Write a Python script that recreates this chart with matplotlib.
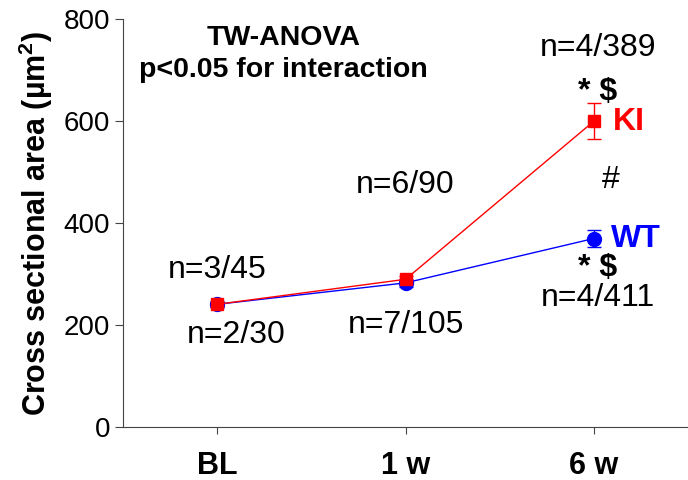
import matplotlib
matplotlib.use("Agg")
import matplotlib.pyplot as plt

plt.rcParams['font.family'] = ['Liberation Sans', 'DejaVu Sans']

# data
timepoints = ['BL', '1 w', '6 w']
wt_mean = [241, 283, 370]
wt_err = [5, 8, 16]
ki_mean = [241, 290, 600]
ki_err = [5, 6, 35]
x = [0, 1, 2]

fig = plt.figure(figsize=(6.88, 4.8), dpi=100)
ax = fig.add_axes([0.179, 0.110, 0.821, 0.850])

ax.errorbar(x, wt_mean, yerr=wt_err, color='blue', marker='o', ms=10,
            lw=1, capsize=5, elinewidth=1)
ax.errorbar(x, ki_mean, yerr=ki_err, color='red', marker='s', ms=9,
            lw=1, capsize=5, elinewidth=1)

ax.set_xlim(-0.5, 2.5)
ax.set_ylim(0, 800)
ax.set_yticks([0, 200, 400, 600, 800])
ax.set_xticks(x)
ax.set_xticklabels(timepoints, fontsize=22, fontweight='bold')
ax.tick_params(axis='y', labelsize=20, direction='out', length=6, color='#444444')
ax.tick_params(axis='x', direction='out', length=5, color='#444444', pad=12)
for s in ['top', 'right']:
    ax.spines[s].set_visible(False)
for s in ['left', 'bottom']:
    ax.spines[s].set_color('#444444')
ax.set_ylabel('Cross sectional area (\u00b5m$^\\mathregular{2}$)', fontsize=22, fontweight='bold', labelpad=6)

# annotations
fs = 23
ax.text(0, 308, 'n=3/45', fontsize=fs, ha='center', va='center')
ax.text(0.1, 180, 'n=2/30', fontsize=fs, ha='center', va='center')
ax.text(1, 474, 'n=6/90', fontsize=fs, ha='center', va='center')
ax.text(1, 200, 'n=7/105', fontsize=fs, ha='center', va='center')
ax.text(2.02, 743, 'n=4/389', fontsize=fs, ha='center', va='center')
ax.text(2.02, 657, '* $', fontsize=fs, ha='center', va='center', fontweight='bold')
ax.text(2.1, 598, 'KI', fontsize=fs, ha='left', va='center', fontweight='bold', color='red')
ax.text(2.09, 484, '#', fontsize=fs, ha='center', va='center')
ax.text(2.09, 370, 'WT', fontsize=fs, ha='left', va='center', fontweight='bold', color='blue')
ax.text(2.02, 312, '* $', fontsize=fs, ha='center', va='center', fontweight='bold')
ax.text(2.02, 253, 'n=4/411', fontsize=fs, ha='center', va='center')
ax.text(0.35, 763, 'TW-ANOVA', fontsize=20.5, ha='center', va='center', fontweight='bold')
ax.text(0.35, 700, 'p<0.05 for interaction', fontsize=20.5, ha='center', va='center', fontweight='bold')

fig.savefig('out.png', dpi=100)
